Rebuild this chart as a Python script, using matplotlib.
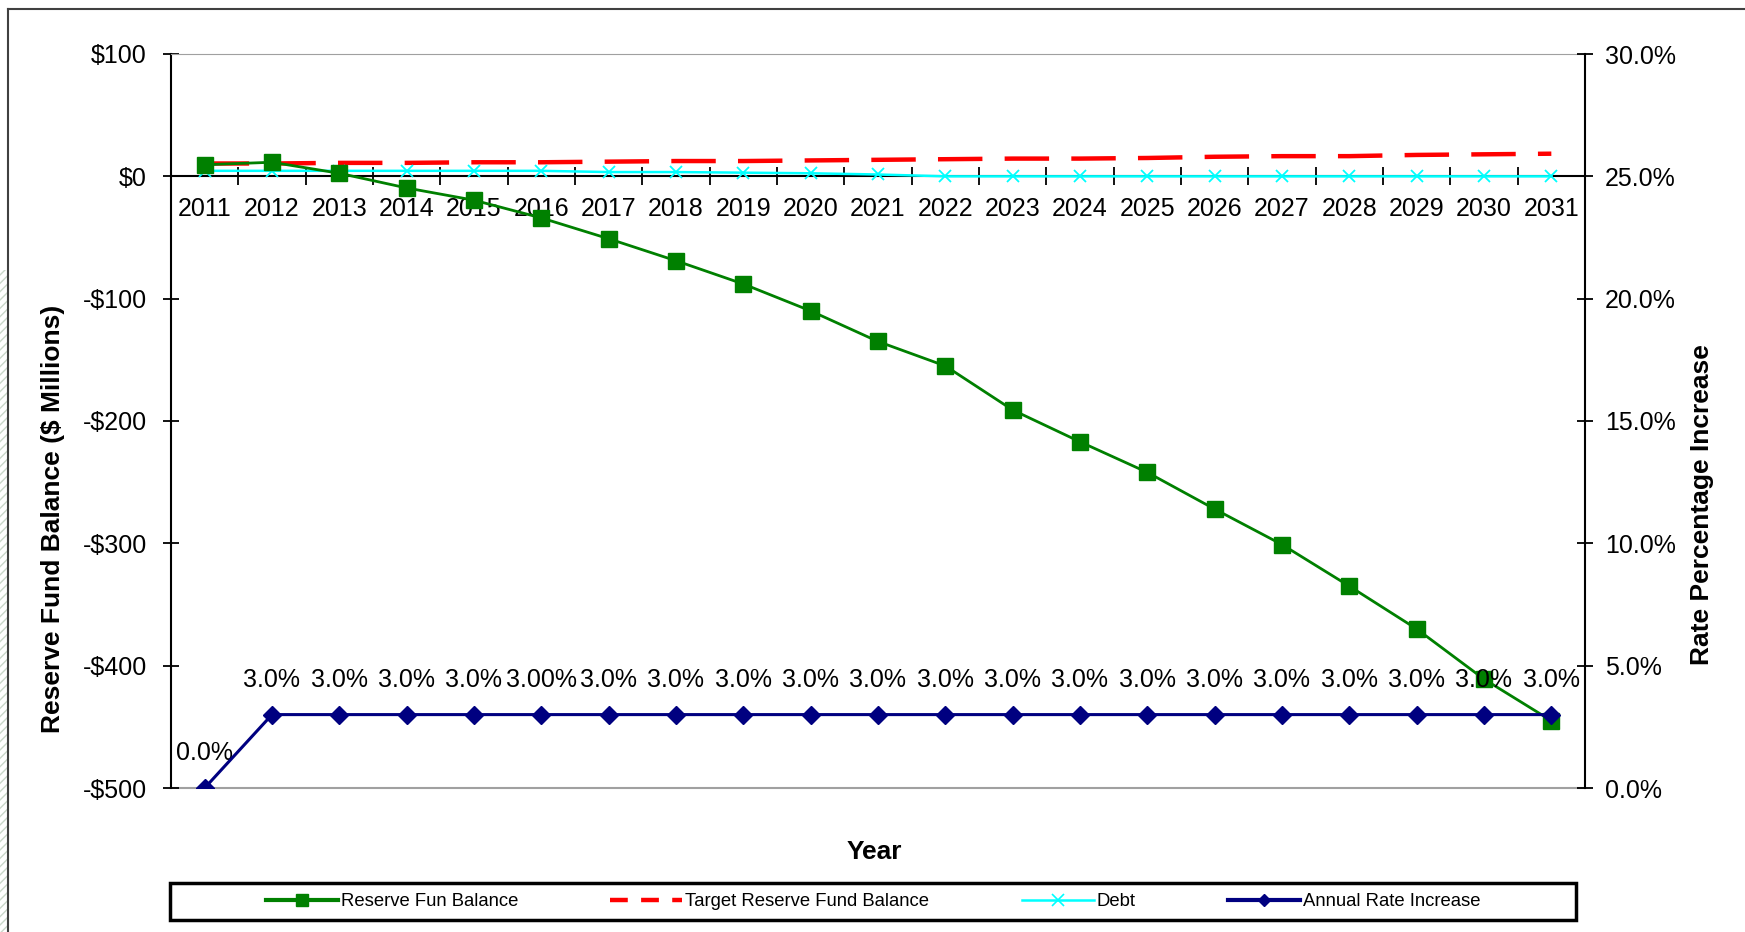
import numpy as np
import matplotlib
matplotlib.use("Agg")
import matplotlib.pyplot as plt
from matplotlib.lines import Line2D
from matplotlib.patches import Rectangle
from matplotlib.ticker import FixedLocator, FuncFormatter

plt.rcParams['font.family'] = ['Liberation Sans', 'DejaVu Sans']

# data
years = [str(y) for y in range(2011, 2032)]
reserve_balance = [9.5, 11.5, 2.5, -9.5, -19.5, -34, -51, -69, -88, -110, -135,
                   -155, -191, -217, -242, -272, -301, -335, -370, -411, -445]
target_balance = [10.5, 10.5, 11, 11, 11.5, 11.5, 12, 12.5, 12.5, 13, 13.5,
                  14, 14.5, 14.5, 15, 16, 16.5, 16.5, 17.5, 18, 18.5]
debt = [4.5, 4.5, 4.5, 4.5, 4.5, 4.5, 3.5, 3.5, 3, 2.5, 1.5,
        0, 0, 0, 0, 0, 0, 0, 0, 0, 0]
rate_increase = [0.0, 3.0, 3.0, 3.0, 3.0, 3.0, 3.0, 3.0, 3.0, 3.0, 3.0,
                 3.0, 3.0, 3.0, 3.0, 3.0, 3.0, 3.0, 3.0, 3.0, 3.0]
rate_labels = ["0.0%", "3.0%", "3.0%", "3.0%", "3.0%", "3.00%", "3.0%", "3.0%",
               "3.0%", "3.0%", "3.0%", "3.0%", "3.0%", "3.0%", "3.0%", "3.0%",
               "3.0%", "3.0%", "3.0%", "3.0%", "3.0%"]

W, H = 1745, 932
fig = plt.figure(figsize=(W / 100, H / 100), dpi=100)
ax = fig.add_axes([171 / W, (H - 788) / H, (1585 - 171) / W, (788 - 54) / H])

x = np.arange(len(years))
TICK_FS = 18

# series on the left axis
ax.plot(x, target_balance, color='#FF0000', lw=3.2, linestyle=(0, (10, 5)), zorder=3)
ax.plot(x, debt, color='#00FFFF', lw=1.8, marker='x', ms=9, mew=1.3, zorder=4)
ax.plot(x, reserve_balance, color='#008000', lw=2, marker='s', ms=12, zorder=5)

ax.set_xlim(-0.5, len(years) - 0.5)
ax.set_ylim(-500, 100)
ax.yaxis.set_major_locator(FixedLocator(np.arange(-500, 101, 100)))
ax.yaxis.set_major_formatter(FuncFormatter(lambda v, p: f"${v:.0f}" if v >= 0 else f"-${-v:.0f}"))
ax.tick_params(axis='y', direction='inout', length=11, width=1.3, labelsize=TICK_FS, pad=12)

# category axis sits on the $0 line
ax.spines['bottom'].set_position(('data', 0))
ax.spines['bottom'].set_linewidth(1.5)
ax.spines['bottom'].set_zorder(2)
ax.spines['left'].set_linewidth(1.5)
ax.spines['top'].set_color('#a0a0a0')
ax.spines['right'].set_visible(False)
ax.axhline(-500, color='#a0a0a0', lw=1.5, zorder=1, clip_on=False)
ax.xaxis.set_major_locator(FixedLocator(np.arange(-0.5, len(years), 1.0)))
ax.xaxis.set_major_formatter(FuncFormatter(lambda v, p: ""))
ax.set_xticks(x, years, minor=True)
ax.tick_params(axis='x', which='major', direction='inout', length=13, width=1.3)
ax.tick_params(axis='x', which='minor', length=0, labelsize=TICK_FS, pad=15)

# rate on the right axis
ax2 = ax.twinx()
ax2.plot(x, rate_increase, color='#000080', lw=2.2, marker='D', ms=9, zorder=6)
ax2.set_ylim(0, 30)
ax2.yaxis.set_major_locator(FixedLocator(np.arange(0, 31, 5)))
ax2.yaxis.set_major_formatter(FuncFormatter(lambda v, p: f"{v:.1f}%"))
ax2.tick_params(axis='y', direction='inout', length=11, width=1.3, labelsize=TICK_FS, pad=9)
for s in ['top', 'bottom', 'left']:
    ax2.spines[s].set_visible(False)
ax2.spines['right'].set_linewidth(1.5)
for xi, yi, lab in zip(x, rate_increase, rate_labels):
    ax2.annotate(lab, (xi, yi), xytext=(0, 25), textcoords='offset points',
                 ha='center', va='center', fontsize=TICK_FS)

# axis titles
fig.text(53 / W, 1 - 519 / H, "Reserve Fund Balance ($ Millions)", rotation=90,
         ha='center', va='center', fontsize=19, fontweight='bold')
fig.text(1702 / W, 1 - 505 / H, "Rate Percentage Increase", rotation=90,
         ha='center', va='center', fontsize=19, fontweight='bold')
fig.text(874 / W, 1 - 852 / H, "Year", ha='center', va='center', fontsize=19, fontweight='bold')

# legend in its own box
fig.add_artist(Rectangle((170 / W, 1 - 920 / H), (1576 - 170) / W, (920 - 883) / H,
                         transform=fig.transFigure, fill=False, ec='black', lw=2.5))
handles = [
    Line2D([], [], color='#008000', lw=3, marker='s', ms=8),
    Line2D([], [], color='#FF0000', lw=3.2, linestyle=(0, (4, 3))),
    Line2D([], [], color='#00FFFF', lw=1.8, marker='x', ms=8, mew=1.2),
    Line2D([], [], color='#000080', lw=3, marker='D', ms=6),
]
labels = ["Reserve Fun Balance", "Target Reserve Fund Balance", "Debt", "Annual Rate Increase"]
fig.legend(handles, labels, loc='center', bbox_to_anchor=(873 / W, 1 - 901.5 / H),
           ncol=4, frameon=False, fontsize=13.3, handlelength=3.9, handletextpad=0.15,
           columnspacing=5.0, borderpad=0)

# outer chart border and screenshot edge
fig.add_artist(Line2D([8 / W, 8 / W], [0, 1 - 9 / H], transform=fig.transFigure,
                      color='#404040', lw=1.5))
fig.add_artist(Line2D([8 / W, 1], [1 - 9 / H, 1 - 9 / H], transform=fig.transFigure,
                      color='#404040', lw=1.5))
fig.add_artist(Rectangle((0, 0), 7 / W, 1 - 270 / H, transform=fig.transFigure,
                         fill=False, hatch='////', ec='#c9d6c9', lw=0))

fig.savefig("out.png", dpi=100)
